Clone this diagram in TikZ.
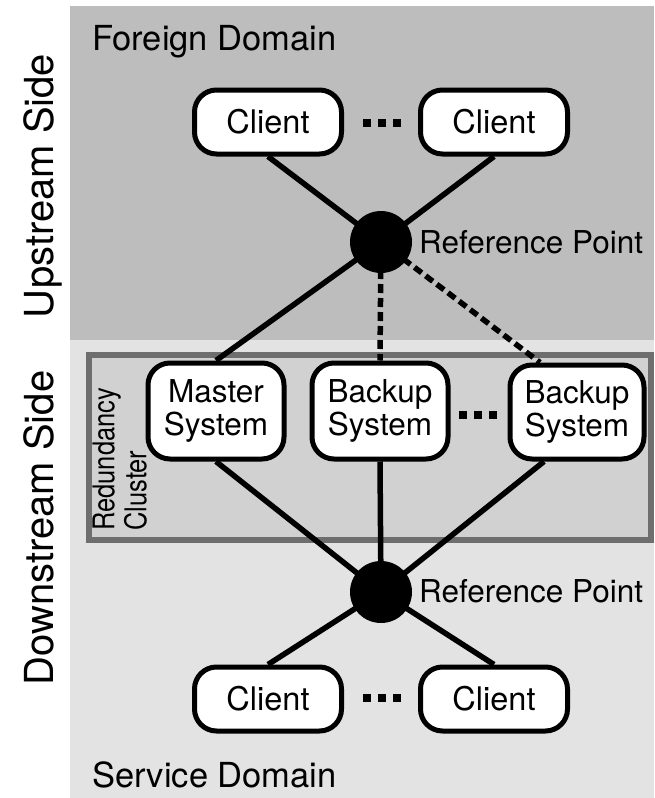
\documentclass[tikz,border=0pt]{standalone}
\usepackage{fontspec}
\setmainfont{TeX Gyre Heros}
\usetikzlibrary{calc}
\pgfdeclarelayer{bg}
\pgfdeclarelayer{edges}
\pgfsetlayers{bg,edges,main}
\definecolor{upgray}{HTML}{BDBDBD}
\definecolor{downgray}{HTML}{E3E3E3}
\definecolor{clustergray}{HTML}{D1D1D1}
\definecolor{clusterborder}{HTML}{6E6E6E}
\tikzset{
  sysbox/.style={draw, line width=5pt, rounded corners=22pt, fill=white,
    align=center, inner sep=0pt, font=\fontsize{31.5}{33}\selectfont},
  clientbox/.style={sysbox, minimum width=147pt, minimum height=64pt,
    font=\fontsize{32.5}{34}\selectfont},
  clusterbox/.style={sysbox, minimum width=136pt, minimum height=96pt},
  refpt/.style={circle, fill=black, minimum size=62pt, inner sep=0pt},
  reflabel/.style={anchor=west, inner sep=0pt, font=\fontsize{31.5}{33}\selectfont},
  link/.style={line width=5.5pt},
  backuplink/.style={link, dash pattern=on 9pt off 5pt},
  domainlabel/.style={anchor=base west, inner sep=0pt, font=\fontsize{34.5}{36}\selectfont},
  sidelabel/.style={rotate=90, anchor=base, inner sep=0pt, font=\fontsize{40}{42}\selectfont},
}
\newcommand{\ellipsisdots}[1]{%
  \foreach \dx in {-15,0,15}
    \fill ([xshift=\dx pt]#1) +(-3.8,-3.8) rectangle +(3.8,3.8);}
\begin{document}
\begin{tikzpicture}[x=1pt, y=-1pt]
\useasboundingbox (0,0) rectangle (654,798);

% domain backgrounds and the redundancy cluster frame
\begin{pgfonlayer}{bg}
  \fill[upgray] (70,6) rectangle (654,340);
  \fill[downgray] (70,340) rectangle (654,798);
  \draw[clusterborder, fill=clustergray, line width=5.5pt] (89,355) rectangle (651,540);
\end{pgfonlayer}

% side and domain labels
\node[sidelabel] (upside) at (53,186) {Upstream Side};
\node[sidelabel] (downside) at (53,528) {Downstream Side};
\node[domainlabel] (foreign) at (92,50) {Foreign Domain};
\node[domainlabel] (service) at (92,787) {Service Domain};
\node[rotate=90, anchor=south west, inner sep=0pt, align=left,
      font=\fontsize{30}{32}\selectfont] (cluster) at (147,531)
  {\scalebox{0.85}[1]{Redundancy}\\\scalebox{0.85}[1]{Cluster}};

% upstream clients and reference point
\node[clientbox] (c1) at (268,122) {Client};
\node[clientbox] (c2) at (494,122) {Client};
\node[refpt] (rp1) at (381,242) {};
\node[reflabel] (rp1l) at (419,242) {Reference Point};

% redundancy cluster members
\node[clusterbox] (ms) at (216,411) {Master\\System};
\node[clusterbox] (b1) at (380,411) {Backup\\System};
\node[clusterbox, minimum width=134pt, minimum height=94pt] (b2) at (577,412) {Backup\\System};

% downstream reference point and clients
\node[refpt] (rp2) at (381,592) {};
\node[reflabel] (rp2l) at (419,591) {Reference Point};
\node[clientbox] (d1) at (268,699) {Client};
\node[clientbox] (d2) at (494,699) {Client};

% ellipses between repeated nodes
\coordinate (dtop) at (382,123);
\coordinate (dmid) at (478,415);
\coordinate (dbot) at (382,698);
\ellipsisdots{dtop}
\ellipsisdots{dmid}
\ellipsisdots{dbot}

% connectors
\begin{pgfonlayer}{edges}
  \draw[link] (c1.south) -- (rp1.center);
  \draw[link] (c2.south) -- (rp1.center);
  \draw[link] (rp1.center) -- (ms.north);
  \draw[backuplink] (rp1.center) -- (b1.north);
  \draw[backuplink] (rp1.center) -- ($(b2.north)+(-37,0)$);
  \draw[link] (ms.south) -- (rp2.center);
  \draw[link] (b1.south) -- (rp2.center);
  \draw[link] ($(b2.south)+(-33,0)$) -- (rp2.center);
  \draw[link] (rp2.center) -- (d1.north);
  \draw[link] (rp2.center) -- (d2.north);
\end{pgfonlayer}
\end{tikzpicture}
\end{document}
